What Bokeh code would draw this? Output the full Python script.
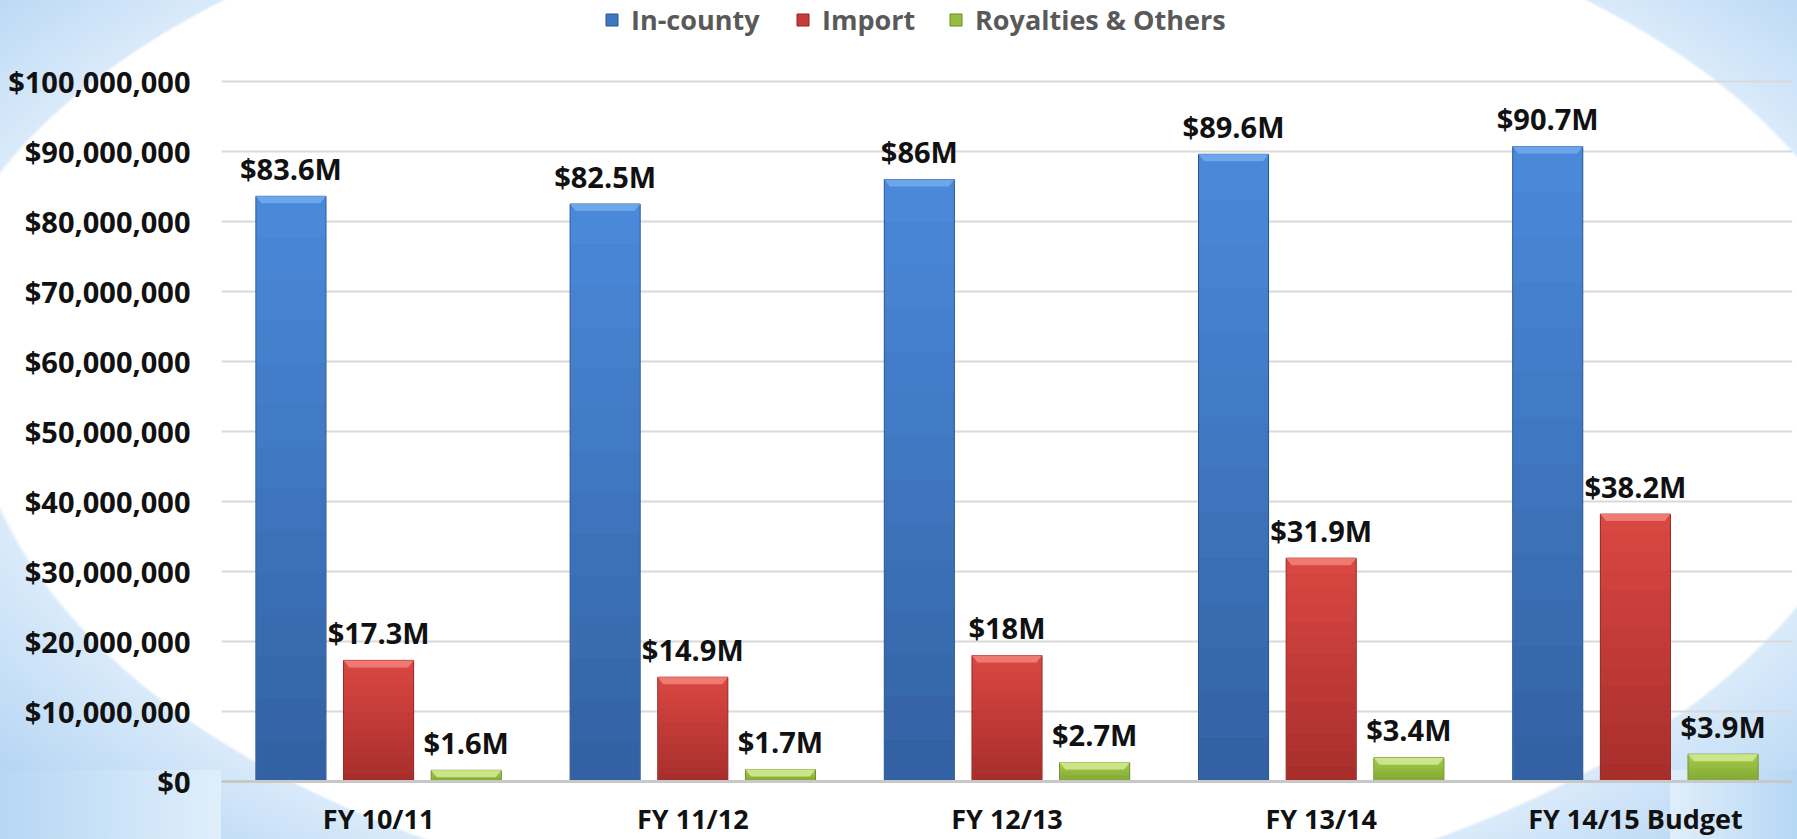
import numpy as np
from bokeh.plotting import figure
from bokeh.models import (Range1d, FixedTicker, NumeralTickFormatter, Legend,
                          LegendItem, Span)
from bokeh.core.properties import value
from bokeh.embed import file_html
from bokeh.resources import INLINE

# ---------------- data ----------------
categories = ["FY 10/11", "FY 11/12", "FY 12/13", "FY 13/14", "FY 14/15 Budget"]
series_names = ["In-county", "Import", "Royalties & Others"]
in_county_m = [83.6, 82.5, 86.0, 89.6, 90.7]      # $ millions
import_m = [17.3, 14.9, 18.0, 31.9, 38.2]
royalties_m = [1.6, 1.7, 2.7, 3.4, 3.9]
y_ticks = [0, 10e6, 20e6, 30e6, 40e6, 50e6, 60e6, 70e6, 80e6, 90e6, 100e6]

# ---------------- style ----------------
FONT = value("Open Sans")
bottom_cols = ["#3260a2", "#a62d2b", "#7fa433"]
top_cols = ["#4b8bdb", "#db4843", "#a6cd4b"]
mid_cols = ["#3f76c2", "#c93b37", "#95bd3f"]
bevel_cols = ["#6ea6ea", "#ef7a74", "#cbe58a"]
edge_cols = ["#2a5289", "#8e2422", "#6b8c2a"]
offsets = [-0.279, 0.0, 0.279]
legend_x = [383, 574, 727]      # legend entry positions (px from frame left)
bar_w = 0.223
W, H = 1797, 839
PX_PER_M = 7.0          # 700 px of frame for $100M
TOP_PX = 81             # room above $100M (legend)
BOTTOM_PX = 58          # room below $0 (category labels)


def hex2rgb(h):
    h = h.lstrip("#")
    return np.array([int(h[i:i + 2], 16) for i in (0, 2, 4)], dtype=float)


def mix(a, b, t):
    c = hex2rgb(a) * (1 - t) + hex2rgb(b) * t
    return "#%02x%02x%02x" % tuple(int(round(v)) for v in c)


p = figure(width=W, height=H, x_range=Range1d(0, 5),
           y_range=Range1d(-BOTTOM_PX / PX_PER_M * 1e6, 100e6 + TOP_PX / PX_PER_M * 1e6),
           output_backend="svg", toolbar_location=None,
           min_border_left=221, min_border_right=5, min_border_top=0, min_border_bottom=0)
p.border_fill_color = None
p.background_fill_color = None
p.outline_line_color = None
stops = "#ffffff 99.5%, #d9eafa 100%, #b3d4f3 122%"
p.styles = {
    "background":
        "linear-gradient(to right, #b6d7f4, #e0eefb) 0px 770px / 221px 69px no-repeat, "
        "linear-gradient(to left, #b6d7f4, #e0eefb) 1670px 770px / 127px 69px no-repeat, "
        f"radial-gradient(980px 510px at 905px 365px, {stops}) 0px 0px / 1797px 365px no-repeat, "
        f"radial-gradient(965px 558px at 930px 0px, {stops}) 0px 365px / 1797px 474px no-repeat"
}

# y axis
p.yaxis.ticker = FixedTicker(ticks=y_ticks)
p.yaxis.formatter = NumeralTickFormatter(format="$0,0")
p.yaxis.axis_line_color = None
p.yaxis.major_tick_line_color = None
p.yaxis.minor_tick_line_color = None
p.yaxis.major_tick_out = 0
p.yaxis.major_label_standoff = 31
p.yaxis.major_label_text_font = "Open Sans"
p.yaxis.major_label_text_font_style = "bold"
p.yaxis.major_label_text_font_size = "29px"
p.yaxis.major_label_text_color = "#111111"

# x axis: hidden, category labels drawn inside the frame below the baseline
p.xaxis.visible = False
p.xgrid.grid_line_color = None
p.ygrid.grid_line_color = "#d9d9d9"
p.ygrid.grid_line_width = 2
p.add_layout(Span(location=0, dimension="width", line_color="#c8c8c8", line_width=3))

centers = [i + 0.5 for i in range(len(categories))]
p.text(x=centers, y=[0] * len(categories), text=categories, text_font=FONT,
       text_font_style="bold", text_font_size="27px", text_align="center",
       text_baseline="alphabetic", y_offset=37, text_color="#111111")

# ---------------- bars ----------------
all_series = [in_county_m, import_m, royalties_m]
N = 14
dy_bevel = 1.0e6
dx_bevel = 0.018
for si, vals_m in enumerate(all_series):
    vals = np.array(vals_m) * 1e6
    xs = np.array(centers) + offsets[si]
    base = p.vbar(x=xs, top=vals, bottom=0, width=bar_w,
                  fill_color=mid_cols[si], line_color=edge_cols[si], line_width=1)
    for k in range(N):
        t = (k + 0.5) / N
        p.vbar(x=xs, bottom=vals * k / N, top=vals * (k + 1) / N, width=bar_w - 0.004,
               fill_color=mix(bottom_cols[si], top_cols[si], t), line_color=None)
    bx = [[x - bar_w / 2, x + bar_w / 2, x + bar_w / 2 - dx_bevel, x - bar_w / 2 + dx_bevel]
          for x in xs]
    by = [[v, v, v - dy_bevel, v - dy_bevel] for v in vals]
    p.patches(xs=bx, ys=by, fill_color=bevel_cols[si], line_color=None)
    labels = ["$%sM" % ("%g" % v) for v in vals_m]
    p.text(x=xs, y=vals, text=labels, text_font=FONT, text_font_style="bold",
           text_font_size="29px", text_align="center", text_baseline="alphabetic",
           y_offset=-28, text_color="#111111")

    legend = Legend(items=[LegendItem(label=series_names[si], renderers=[base])],
                    orientation="horizontal", location=(legend_x[si], 801),
                    glyph_width=15, glyph_height=15, label_standoff=12,
                    label_height=30, padding=0, margin=0, border_line_color=None,
                    background_fill_alpha=0,
                    label_text_font="Open Sans", label_text_font_style="bold",
                    label_text_font_size="27px", label_text_color="#595959")
    p.add_layout(legend, "center")

open("out.html", "w").write(file_html(p, INLINE))
